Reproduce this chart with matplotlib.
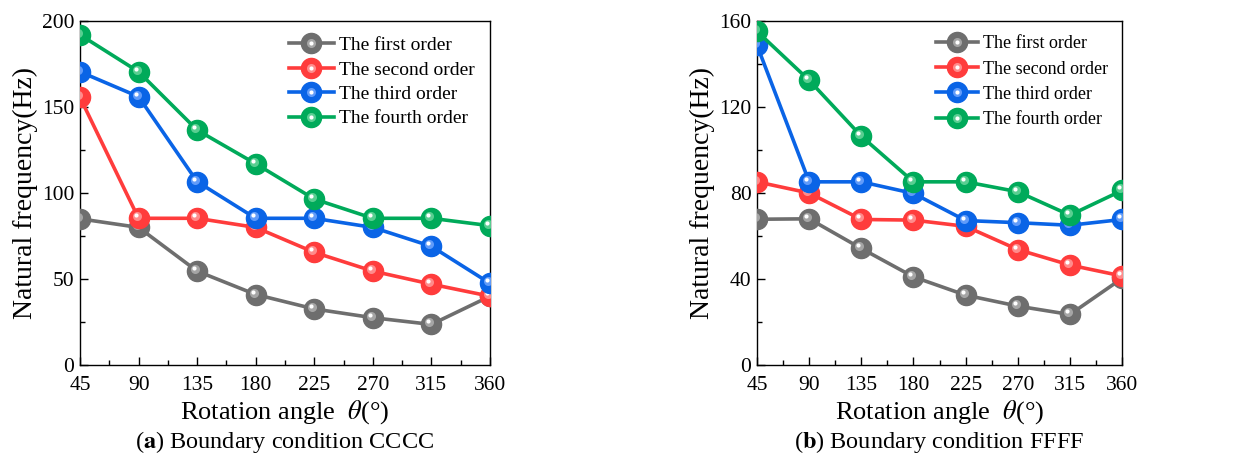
import matplotlib
matplotlib.use("Agg")
import matplotlib.pyplot as plt
from matplotlib.transforms import offset_copy
from matplotlib.ticker import MultipleLocator

plt.rcParams['font.family'] = ['Liberation Serif', 'DejaVu Serif']
plt.rcParams['mathtext.fontset'] = 'stix'

angles = [45, 90, 135, 180, 225, 270, 315, 360]
order_names = ['The first order', 'The second order', 'The third order', 'The fourth order']
order_colors = ['#6e6e6e', '#ff3c3c', '#0a64e6', '#00aa5a']
highlight_colors = ['#b4b4b4', '#ffa0a0', '#78aaff', '#70d8a0']

# boundary condition CCCC
cccc_first = [85, 80, 54.6, 41, 32.6, 27.5, 23.6, 40]
cccc_second = [155.6, 85.3, 85.3, 80, 65.5, 54.6, 47, 40]
cccc_third = [170.5, 156, 106.6, 85.3, 85.3, 80, 69, 47.5]
cccc_fourth = [192, 170.5, 136.6, 117, 96.5, 85.3, 85.3, 81]

# boundary condition FFFF
ffff_first = [67.8, 68, 54.2, 41, 32.5, 27.4, 23.5, 40.3]
ffff_second = [85.2, 80, 67.7, 67.4, 64.5, 53.7, 46.5, 41.4]
ffff_third = [148.7, 85.2, 85.2, 79.8, 67.2, 66.2, 65, 67.7]
ffff_fourth = [155.2, 132.4, 106.4, 85.2, 85.2, 80.6, 69.7, 81.2]

panels = [
    dict(series=[cccc_first, cccc_second, cccc_third, cccc_fourth],
         ymax=200, ystep=50, caption='Boundary condition CCCC', tag='a',
         rect=[0.0641, 0.2217, 0.3285, 0.7335], legend_anchor=(1.0, 1.0),
         legend_size=14, legend_spacing=0.35),
    dict(series=[ffff_first, ffff_second, ffff_third, ffff_fourth],
         ymax=160, ystep=40, caption='Boundary condition FFFF', tag='b',
         rect=[0.6066, 0.2217, 0.2925, 0.7335], legend_anchor=(1.0, 1.0),
         legend_size=13, legend_spacing=0.45),
]

fig = plt.figure(figsize=(12.48, 4.69), dpi=100)

for p in panels:
    ax = fig.add_axes(p['rect'])
    shine = offset_copy(ax.transData, fig=fig, x=-2, y=2, units='dots')
    spot = offset_copy(ax.transData, fig=fig, x=-3, y=3, units='dots')
    handles = []
    for vals, name, c, hc in zip(p['series'], order_names, order_colors, highlight_colors):
        ax.plot(angles, vals, '-o', color=c, lw=2.6, ms=14.5, mec=c, zorder=3)
        # glossy sphere look: lighter inner disc plus a white spot
        ax.plot(angles, vals, 'o', color=hc, ms=6.5, mec='none', alpha=0.8,
                transform=shine, zorder=3)
        ax.plot(angles, vals, 'o', color='white', ms=3, mec='none',
                transform=spot, zorder=3)
        h1, = ax.plot([], [], '-o', color=c, lw=2.6, ms=14.5, mec=c)
        h2, = ax.plot([], [], 'o', color=hc, ms=6.5, mec='none', alpha=0.8)
        h3, = ax.plot([], [], 'o', color='white', ms=3, mec='none')
        handles.append((h1, h2, h3))

    ax.set_xlim(45, 360)
    ax.set_ylim(0, p['ymax'])
    ax.set_xticks(angles)
    ax.xaxis.set_minor_locator(MultipleLocator(22.5))
    ax.yaxis.set_major_locator(MultipleLocator(p['ystep']))
    ax.yaxis.set_minor_locator(MultipleLocator(p['ystep'] / 2))
    ax.tick_params(which='both', direction='in', top=False, right=False,
                   labelsize=15.5, width=1)
    ax.tick_params(which='major', length=6)
    ax.tick_params(which='minor', length=3.5)
    ax.tick_params(axis='x', pad=8)
    ax.tick_params(axis='y', pad=4)
    for s in ax.spines.values():
        s.set_linewidth(1.0)

    ax.set_ylabel('Natural frequency(Hz)', fontsize=20, labelpad=3)
    ax.set_xlabel('Rotation angle  $\\theta$(°)', fontsize=19, labelpad=2)

    ax.legend(handles, order_names, loc='upper right',
              bbox_to_anchor=p['legend_anchor'], frameon=False,
              fontsize=p['legend_size'], handlelength=2.3, handletextpad=0.25,
              labelspacing=p['legend_spacing'], borderaxespad=0.4)

    bb = p['rect']
    cx = bb[0] + bb[2] / 2
    fig.text(cx, 0.058, '(' + f'$\\bf{{{p["tag"]}}}$' + ') ' + p['caption'],
             ha='center', va='center', fontsize=17.5)

fig.savefig('out.png', dpi=100)
